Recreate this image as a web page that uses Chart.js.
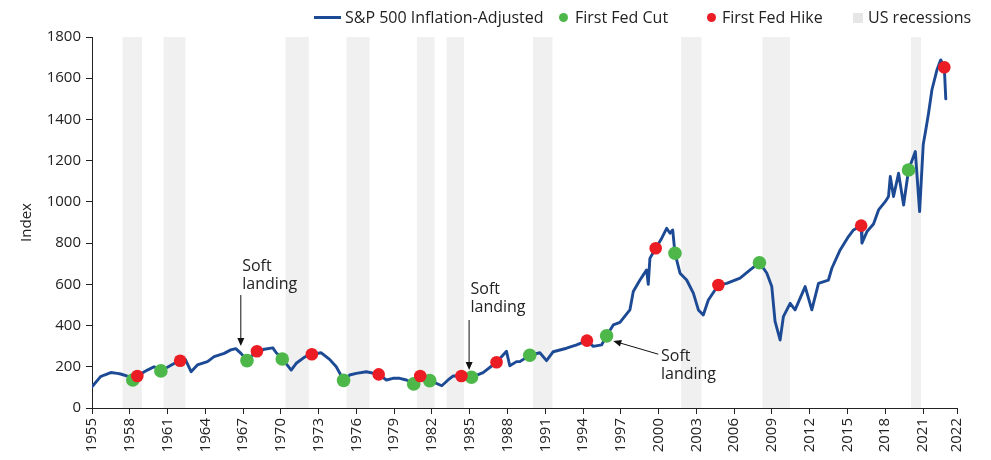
<!DOCTYPE html>
<html>
<head>
<meta charset="utf-8">
<script src="https://cdn.jsdelivr.net/npm/chart.js@4.4.1/dist/chart.umd.min.js"></script>
<style>
  html, body { margin: 0; padding: 0; background: #ffffff; }
  #wrap { position: relative; width: 991px; height: 460px; }
  #c { position: absolute; left: 0; top: 0; }
  #legend { position: absolute; left: 0; top: 0; width: 991px; height: 34px;
            font-family: "Open Sans", sans-serif; font-size: 16px; color: #222; }
  .lg { position: absolute; top: 6px; height: 22px; line-height: 22px; white-space: nowrap; }
  .sw { position: absolute; }
</style>
</head>
<body>
<div id="wrap">
  <canvas id="c" width="991" height="460"></canvas>
  <div id="legend">
    <div class="sw" style="left:314px;top:16px;width:27px;height:3px;background:#1d4a94;"></div>
    <div class="lg" style="left:345px;">S&amp;P 500 Inflation-Adjusted</div>
    <div class="sw" style="left:559px;top:13px;width:9px;height:9px;border-radius:50%;background:#4db849;"></div>
    <div class="lg" style="left:575px;">First Fed Cut</div>
    <div class="sw" style="left:707px;top:13px;width:9px;height:9px;border-radius:50%;background:#ec1c24;"></div>
    <div class="lg" style="left:722px;">First Fed Hike</div>
    <div class="sw" style="left:853px;top:13px;width:10px;height:10px;background:#e6e6e6;"></div>
    <div class="lg" style="left:868px;">US recessions</div>
  </div>
</div>
<script>
// ---- data (x in years) ----
const years = [1955.00,1955.68,1955.98,1956.49,1957.01,1957.27,1957.81,1958.24,1958.60,1959.16,1959.40,1959.93,
  1960.47,1960.99,1961.52,1962.00,1962.42,1962.87,1963.37,1964.17,1964.70,1965.50,1966.02,1966.42,1966.83,
  1967.31,1968.10,1968.68,1969.36,1969.63,1970.11,1970.82,1971.22,1971.88,1972.46,1973.21,1973.87,1974.40,
  1974.98,1975.46,1975.99,1976.79,1977.77,1978.38,1978.90,1979.44,1979.97,1980.55,1981.07,1981.82,1982.78,
  1983.28,1983.67,1984.34,1985.14,1986.06,1987.13,1987.92,1988.18,1988.72,1988.98,1989.77,1990.57,1991.10,
  1991.63,1992.69,1993.49,1994.31,1994.81,1995.47,1995.87,1996.40,1996.93,1997.72,1997.99,1998.52,1999.05,
  1999.18,1999.31,1999.77,2000.25,2000.64,2000.91,2001.12,2001.30,2001.70,2002.23,2002.76,2003.16,2003.55,
  2003.95,2004.75,2005.41,2006.47,2007.27,2008.01,2008.59,2008.99,2009.25,2009.65,2009.91,2010.45,2010.84,
  2011.64,2012.17,2012.70,2013.49,2013.76,2014.42,2015.08,2015.48,2016.09,2016.15,2016.55,2017.07,2017.47,
  2018.00,2018.26,2018.40,2018.66,2019.06,2019.46,2019.85,2020.39,2020.73,2021.02,2021.22,2021.44,2021.71,
  2022.11,2022.41,2022.69,2022.81];
const spx = [103,152,160,172,168,165,155,140,155,176,184,200,
  182,198,216,228,235,176,209,225,249,265,282,288,265,
  232,275,285,292,268,240,184,217,247,261,268,236,200,
  135,160,168,176,163,136,144,144,136,118,155,134,108,
  136,155,155,149,172,222,275,205,225,225,256,268,230,
  273,290,306,327,299,306,350,403,415,476,565,621,670,
  600,726,775,824,872,848,864,751,654,621,557,476,451,
  524,597,605,630,670,705,655,589,420,330,443,508,476,
  589,476,605,621,678,767,832,864,885,800,856,893,961,
  1001,1026,1123,1026,1139,985,1155,1244,953,1280,1349,1430,1544,
  1641,1689,1654,1500];

const cutYears  = [1958.24,1960.47,1967.31,1970.11,1974.98,1980.55,1981.82,1985.14,1989.77,1995.87,2001.30,2008.01,2019.85];
const cutValues = [136,180,230,238,134,117,133,149,256,350,751,705,1155];

const hikeYears  = [1958.60,1962.00,1968.10,1972.46,1977.77,1981.07,1984.34,1987.13,1994.31,1999.77,2004.75,2016.09,2022.69];
const hikeValues = [155,229,275,261,163,155,155,222,327,775,597,885,1653];

const recessionStart = [1957.43,1960.69,1970.37,1975.21,1980.80,1983.16,1990.02,2001.79,2008.24,2020.05];
const recessionEnd   = [1958.97,1962.42,1972.22,1977.04,1982.21,1984.54,1991.57,2003.41,2010.43,2020.84];

const tickYears  = [1955,1958,1961,1964,1967,1970,1973,1976,1979,1982,1985,1988,1991,1994,1997,2000,2003,2006,2009,2012,2015,2018,2021,2023.7];
const tickLabels = ['1955','1958','1961','1964','1967','1970','1973','1976','1979','1982','1985','1988','1991','1994','1997','2000','2003','2006','2009','2012','2015','2018','2021','2022'];

const yTicks = [0,200,400,600,800,1000,1200,1400,1600,1800];

// annotations: text lines anchored at (year, value of first line), arrow from -> to
const noteLines = ['Soft', 'landing'];
const notes = [
  { tx: 1966.93, ty: 689, from: [1966.82, 548], to: [1966.82, 301] },
  { tx: 1985.06, ty: 573, from: [1984.95, 427], to: [1984.95, 184] },
  { tx: 2000.19, ty: 248, from: [1999.98, 261], to: [1996.40, 325] }
];

const FONT = '"Open Sans", sans-serif';
const TXT = '#222222';

const recessionPlugin = {
  id: 'recessions',
  beforeDraw(chart) {
    const { ctx, chartArea, scales: { x } } = chart;
    ctx.save();
    ctx.fillStyle = '#f0f0f0';
    recessionStart.forEach((s, i) => {
      const x0 = x.getPixelForValue(s);
      const x1 = x.getPixelForValue(recessionEnd[i]);
      ctx.fillRect(x0, chartArea.top, x1 - x0, chartArea.bottom - chartArea.top);
    });
    ctx.restore();
  }
};

const notePlugin = {
  id: 'notes',
  afterDatasetsDraw(chart) {
    const { ctx, scales: { x, y } } = chart;
    ctx.save();
    ctx.fillStyle = TXT;
    ctx.strokeStyle = '#111';
    ctx.font = '16px ' + FONT;
    ctx.textAlign = 'left';
    ctx.textBaseline = 'middle';
    notes.forEach(n => {
      const px = x.getPixelForValue(n.tx);
      const py = y.getPixelForValue(n.ty);
      noteLines.forEach((t, i) => ctx.fillText(t, px, py + i * 18));
      const x1 = x.getPixelForValue(n.from[0]), y1 = y.getPixelForValue(n.from[1]);
      const x2 = x.getPixelForValue(n.to[0]),   y2 = y.getPixelForValue(n.to[1]);
      const ang = Math.atan2(y2 - y1, x2 - x1);
      const hl = 8, hw = 3.5;
      ctx.lineWidth = 1;
      ctx.beginPath();
      ctx.moveTo(x1, y1);
      ctx.lineTo(x2 - Math.cos(ang) * hl * 0.8, y2 - Math.sin(ang) * hl * 0.8);
      ctx.stroke();
      ctx.beginPath();
      ctx.moveTo(x2, y2);
      ctx.lineTo(x2 - Math.cos(ang) * hl - Math.sin(ang) * hw, y2 - Math.sin(ang) * hl + Math.cos(ang) * hw);
      ctx.lineTo(x2 - Math.cos(ang) * hl + Math.sin(ang) * hw, y2 - Math.sin(ang) * hl - Math.cos(ang) * hw);
      ctx.closePath();
      ctx.fillStyle = '#111';
      ctx.fill();
      ctx.fillStyle = TXT;
    });
    ctx.restore();
  }
};

new Chart(document.getElementById('c'), {
  data: {
    datasets: [
      { type: 'scatter', label: 'First Fed Hike', order: 0,
        data: hikeYears.map((v, i) => ({ x: v, y: hikeValues[i] })),
        backgroundColor: '#ec1c24', borderWidth: 0, pointRadius: 6.3, pointHoverRadius: 6.3 },
      { type: 'scatter', label: 'First Fed Cut', order: 1,
        data: cutYears.map((v, i) => ({ x: v, y: cutValues[i] })),
        backgroundColor: '#4db849', borderWidth: 0, pointRadius: 6.8, pointHoverRadius: 6.8 },
      { type: 'line', label: 'S&P 500 Inflation-Adjusted', order: 2,
        data: years.map((v, i) => ({ x: v, y: spx[i] })),
        borderColor: '#1d4a94', borderWidth: 2.9, pointRadius: 0, tension: 0,
        borderJoinStyle: 'round', borderCapStyle: 'round', fill: false }
    ]
  },
  options: {
    responsive: false,
    animation: false,
    events: [],
    layout: { padding: { left: 10, top: 37, right: 34, bottom: 0 } },
    plugins: { legend: { display: false }, tooltip: { enabled: false } },
    scales: {
      x: {
        type: 'linear', min: tickYears[0], max: tickYears[tickYears.length - 1],
        afterBuildTicks: s => { s.ticks = tickYears.map(v => ({ value: v })); },
        afterFit: s => { s.height = 52; },
        ticks: { autoSkip: false, minRotation: 90, maxRotation: 90, padding: 4,
                 color: TXT, font: { family: FONT, size: 15 },
                 callback: (v, i) => tickLabels[i] },
        grid: { drawOnChartArea: false, drawTicks: true, tickLength: 6, color: '#222' },
        border: { color: '#222', width: 1 }
      },
      y: {
        type: 'linear', min: 0, max: 1800,
        afterBuildTicks: s => { s.ticks = yTicks.map(v => ({ value: v })); },
        afterFit: s => { s.width = 82; },
        ticks: { padding: 5, color: TXT, font: { family: FONT, size: 15 },
                 callback: v => String(v) },
        grid: { drawOnChartArea: false, drawTicks: true, tickLength: 6, color: '#222' },
        border: { color: '#222', width: 1 },
        title: { display: true, text: 'Index', color: TXT, font: { family: FONT, size: 15 }, padding: { top: 8, bottom: 0 } }
      }
    }
  },
  plugins: [recessionPlugin, notePlugin]
});
</script>
</body>
</html>
